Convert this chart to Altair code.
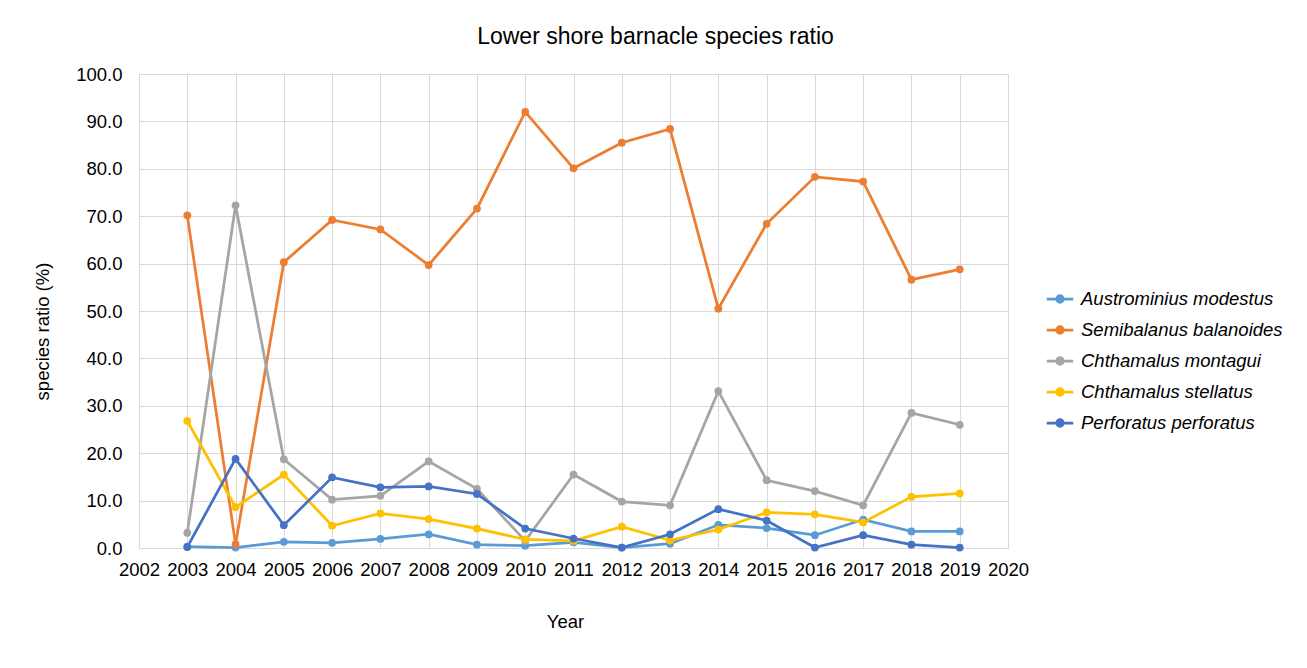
import altair as alt
import pandas as pd

years = list(range(2003, 2020))
series_names = [
    "Austrominius modestus",
    "Semibalanus balanoides",
    "Chthamalus montagui",
    "Chthamalus stellatus",
    "Perforatus perforatus",
]
colors = ["#5B9BD5", "#ED7D31", "#A5A5A5", "#FFC000", "#4472C4"]

austrominius = [0.3, 0.1, 1.3, 1.1, 1.9, 2.9, 0.7, 0.5, 1.2, 0.1, 0.9, 4.9, 4.2, 2.7, 6.0, 3.5, 3.5]
semibalanus = [70.2, 0.8, 60.3, 69.2, 67.2, 59.7, 71.6, 92.0, 80.1, 85.5, 88.4, 50.5, 68.4, 78.3, 77.3, 56.6, 58.8]
montagui = [3.2, 72.3, 18.7, 10.2, 11.0, 18.3, 12.5, 1.5, 15.5, 9.8, 9.0, 33.1, 14.3, 12.0, 9.0, 28.5, 26.0]
stellatus = [26.8, 8.6, 15.5, 4.7, 7.3, 6.1, 4.1, 1.8, 1.5, 4.5, 1.6, 3.9, 7.5, 7.1, 5.4, 10.8, 11.5]
perforatus = [0.2, 18.8, 4.8, 14.9, 12.8, 13.0, 11.4, 4.1, 2.0, 0.1, 2.9, 8.2, 5.8, 0.1, 2.7, 0.7, 0.1]

x_ticks = list(range(2002, 2021))
y_ticks = [0, 10, 20, 30, 40, 50, 60, 70, 80, 90, 100]

values = [austrominius, semibalanus, montagui, stellatus, perforatus]
rows = []
for name, vals in zip(series_names, values):
    for yr, v in zip(years, vals):
        rows.append({"Year": yr, "ratio": v, "species": name})
df = pd.DataFrame(rows)

FONT = "Liberation Sans"
FS = 18.5

color = alt.Color(
    "species:N",
    scale=alt.Scale(domain=series_names, range=colors),
    sort=series_names,
    legend=alt.Legend(
        title=None,
        orient="none",
        legendX=906,
        legendY=210,
        labelFont=FONT,
        labelFontSize=FS,
        labelFontStyle="italic",
        labelColor="#000000",
        symbolType="M-1,0H1M-0.25,0a0.25,0.25 0 1,0 0.5,0a0.25,0.25 0 1,0 -0.5,0",
        symbolSize=700,
        symbolStrokeWidth=2.75,
        rowPadding=6,
        labelOffset=6,
        labelLimit=300,
    ),
)

base = alt.Chart(df).encode(
    x=alt.X(
        "Year:Q",
        scale=alt.Scale(domain=[2002, 2020], nice=False, zero=False),
        axis=alt.Axis(
            values=x_ticks,
            format="d",
            title="Year",
            labelFont=FONT,
            labelFontSize=FS,
            labelColor="#000000",
            labelPadding=12,
            titleFont=FONT,
            titleFontSize=FS,
            titleFontWeight="normal",
            titleColor="#000000",
            titlePadding=34,
            titleX=426,
            ticks=False,
            domain=True,
            domainColor="#d9d9d9",
            gridColor="#d9d9d9",
            labelFlush=False,
        ),
    ),
    y=alt.Y(
        "ratio:Q",
        scale=alt.Scale(domain=[0, 100], nice=False),
        axis=alt.Axis(
            values=y_ticks,
            format=".1f",
            title="species ratio (%)",
            labelFont=FONT,
            labelFontSize=FS,
            labelColor="#000000",
            labelPadding=17,
            titleFont=FONT,
            titleFontSize=FS,
            titleFontWeight="normal",
            titleColor="#000000",
            titlePadding=23,
            titleY=257,
            ticks=False,
            domain=False,
            gridColor="#d9d9d9",
        ),
    ),
    color=color,
)

lines = base.mark_line(strokeWidth=2.75)
points = base.mark_point(filled=True, size=60, opacity=1)

chart = (
    alt.layer(lines, points)
    .properties(
        width=869,
        height=474,
        title=alt.TitleParams(
            "Lower shore barnacle species ratio",
            font=FONT,
            fontSize=23,
            fontWeight="normal",
            color="#000000",
            anchor="middle",
            dx=82,
            offset=16,
        ),
        autosize=alt.AutoSizeParams(type="none"),
        padding={"left": 131, "top": 66, "right": 280, "bottom": 100},
    )
    .configure_view(stroke="#d9d9d9")
    .configure(background="white")
)

chart.save("out.html", embed_options={"renderer": "svg", "actions": False})
